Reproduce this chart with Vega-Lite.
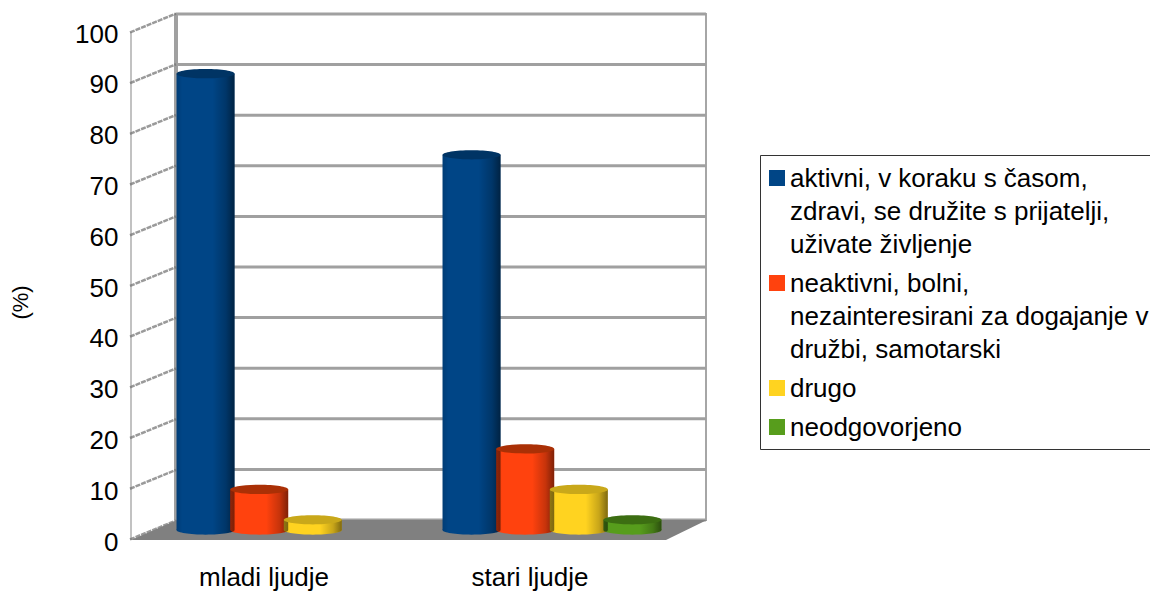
{
  "$schema": "https://vega.github.io/schema/vega-lite/v6.json",
  "width": 530,
  "height": 506,
  "autosize": {"type": "none"},
  "padding": {"left": 176, "top": 14, "right": 444, "bottom": 71},
  "background": "white",
  "config": {"font": "Liberation Sans", "view": {"stroke": "#a6a6a6", "strokeWidth": 2, "fill": "white"}},
  "datasets": {
    "answers": [
      {"group": "mladi ljudje", "series": "aktivni, v koraku s časom,\nzdravi, se družite s prijatelji,\nuživate življenje", "percent": 90},
      {"group": "mladi ljudje", "series": "neaktivni, bolni,\nnezainteresirani za dogajanje v\ndružbi, samotarski", "percent": 8},
      {"group": "mladi ljudje", "series": "drugo", "percent": 2},
      {"group": "stari ljudje", "series": "aktivni, v koraku s časom,\nzdravi, se družite s prijatelji,\nuživate življenje", "percent": 74},
      {"group": "stari ljudje", "series": "neaktivni, bolni,\nnezainteresirani za dogajanje v\ndružbi, samotarski", "percent": 16},
      {"group": "stari ljudje", "series": "drugo", "percent": 8},
      {"group": "stari ljudje", "series": "neodgovorjeno", "percent": 2}
    ],
    "ticks": [
      {"tick": 0}, {"tick": 10}, {"tick": 20}, {"tick": 30}, {"tick": 40}, {"tick": 50},
      {"tick": 60}, {"tick": 70}, {"tick": 80}, {"tick": 90}, {"tick": 100}
    ]
  },
  "data": {"name": "answers"},
  "resolve": {"scale": {"x": "independent", "y": "independent", "fill": "independent", "color": "independent", "xOffset": "independent"}},
  "layer": [
    {
      "description": "Horizontal grid on the back wall",
      "data": {"name": "ticks"},
      "mark": {"type": "rule", "stroke": "#a0a0a0", "strokeWidth": 3},
      "encoding": {
        "y": {"field": "tick", "type": "quantitative", "axis": null, "scale": {"domain": [0, 100]}}
      }
    },
    {
      "description": "Inner corner of the walls",
      "data": {"values": [{"edge": 0}]},
      "mark": {"type": "rule", "stroke": "#a0a0a0", "strokeWidth": 4},
      "encoding": {
        "x": {"field": "edge", "type": "quantitative", "axis": null, "scale": {"domain": [0, 1]}}
      }
    },
    {
      "description": "Front edge of the side wall; carries the value axis and the category labels",
      "data": {"values": [{"group": "mladi ljudje", "tick": 50}]},
      "mark": {"type": "point", "shape": "M 0 -1 L 0 1", "size": 258064, "filled": false, "stroke": "#8c8c8c", "strokeWidth": 1.5},
      "encoding": {
        "x": {
          "field": "group", "type": "nominal", "bandPosition": 0, "title": null,
          "scale": {"type": "band", "domain": ["mladi ljudje", "stari ljudje"], "range": [-45, 487], "paddingInner": 0, "paddingOuter": 0},
          "axis": {"orient": "bottom", "domain": false, "ticks": false, "labelAngle": 0, "labelPadding": 57, "labelFontSize": 26, "labelColor": "#000000", "labelFont": "Liberation Sans", "labelBaseline": "middle"}
        },
        "y": {
          "field": "tick", "type": "quantitative", "title": "(%)",
          "scale": {"domain": [0, 100], "range": [526, 18]},
          "axis": {"orient": "left", "offset": 46, "values": [0, 10, 20, 30, 40, 50, 60, 70, 80, 90, 100], "domain": false, "ticks": false, "grid": false, "labelPadding": 12, "labelOffset": 2, "labelFontSize": 26, "labelColor": "#000000", "titleFontSize": 22, "titleFontWeight": "normal", "titleColor": "#000000", "titlePadding": 42, "titleY": 288}
        }
      }
    },
    {
      "description": "Grid continued across the side wall",
      "data": {"name": "ticks"},
      "mark": {"type": "point", "shape": "M -1 0.41 L 1 -0.41", "size": 2116, "filled": false, "stroke": "#707070", "strokeWidth": 2.5, "strokeDash": [5, 1]},
      "encoding": {
        "x": {"datum": "mladi ljudje", "type": "nominal", "bandPosition": 0, "axis": null,
          "scale": {"type": "band", "domain": ["mladi ljudje", "stari ljudje"], "range": [-23, 509], "paddingInner": 0, "paddingOuter": 0}},
        "y": {"field": "tick", "type": "quantitative", "axis": null, "scale": {"domain": [0, 100], "range": [516, 9]}}
      }
    },
    {
      "description": "Floor of the chart box",
      "data": {"values": [{"tick": 0}]},
      "mark": {"type": "point", "shape": "M -1 0.0347 L 0.8576 0.0347 L 1 -0.0347 L -0.84 -0.0347 Z", "size": 331776, "filled": true, "fill": "#808080", "opacity": 1},
      "encoding": {
        "x": {"datum": "mladi ljudje", "type": "nominal", "bandPosition": 1, "axis": null,
          "scale": {"type": "band", "domain": ["mladi ljudje", "stari ljudje"], "range": [-23, 509], "paddingInner": 0, "paddingOuter": 0}},
        "y": {"field": "tick", "type": "quantitative", "axis": null, "scale": {"domain": [0, 100], "range": [516, 9]}}
      }
    },
    {
      "description": "Rounded foot of each cylinder",
      "mark": {"type": "point", "shape": "M -1 0 A 1 0.16 0 1 0 1 0 A 1 0.16 0 1 0 -1 0 Z", "size": 3364, "filled": true, "opacity": 1},
      "encoding": {
        "x": {"field": "group", "type": "nominal", "axis": null,
          "scale": {"type": "band", "domain": ["mladi ljudje", "stari ljudje"], "range": [-23, 509], "paddingInner": 0, "paddingOuter": 0}},
        "xOffset": {"field": "series", "type": "nominal", "sort": null,
          "scale": {"type": "band", "paddingInner": 0, "paddingOuter": 0.48, "domain": ["aktivni, v koraku s časom,\nzdravi, se družite s prijatelji,\nuživate življenje", "neaktivni, bolni,\nnezainteresirani za dogajanje v\ndružbi, samotarski", "drugo", "neodgovorjeno"]}},
        "y": {"datum": 0, "type": "quantitative", "axis": null, "scale": {"domain": [0, 100], "range": [516, 9]}},
        "fill": {"field": "series", "type": "nominal", "legend": null,
          "scale": {
            "domain": ["aktivni, v koraku s časom,\nzdravi, se družite s prijatelji,\nuživate življenje", "neaktivni, bolni,\nnezainteresirani za dogajanje v\ndružbi, samotarski", "drugo", "neodgovorjeno"],
            "range": ["#004586", "#ff420e", "#ffd320", "#579d1c"]
          }}
      }
    },
    {
      "description": "Shading of the cylinder feet",
      "mark": {"type": "point", "shape": "M -1 0 A 1 0.16 0 1 0 1 0 A 1 0.16 0 1 0 -1 0 Z", "size": 3364, "filled": true, "opacity": 1, "fill": {
        "gradient": "linear", "x1": 0, "x2": 1, "y1": 0, "y2": 0,
        "stops": [
          {"offset": 0, "color": "rgba(0,0,0,0.12)"},
          {"offset": 0.1, "color": "rgba(0,0,0,0)"},
          {"offset": 0.62, "color": "rgba(0,0,0,0)"},
          {"offset": 0.85, "color": "rgba(0,0,0,0.22)"},
          {"offset": 1, "color": "rgba(0,0,0,0.5)"}
        ]
      }},
      "encoding": {
        "x": {"field": "group", "type": "nominal", "axis": null,
          "scale": {"type": "band", "domain": ["mladi ljudje", "stari ljudje"], "range": [-23, 509], "paddingInner": 0, "paddingOuter": 0}},
        "xOffset": {"field": "series", "type": "nominal", "sort": null,
          "scale": {"type": "band", "paddingInner": 0, "paddingOuter": 0.48, "domain": ["aktivni, v koraku s časom,\nzdravi, se družite s prijatelji,\nuživate življenje", "neaktivni, bolni,\nnezainteresirani za dogajanje v\ndružbi, samotarski", "drugo", "neodgovorjeno"]}},
        "y": {"datum": 0, "type": "quantitative", "axis": null, "scale": {"domain": [0, 100], "range": [516, 9]}}
      }
    },
    {
      "description": "Cylinder bodies; the flat series colours feed the legend",
      "mark": {"type": "bar", "width": 58},
      "encoding": {
        "x": {"field": "group", "type": "nominal", "axis": null,
          "scale": {"type": "band", "domain": ["mladi ljudje", "stari ljudje"], "range": [-23, 509], "paddingInner": 0, "paddingOuter": 0}},
        "xOffset": {"field": "series", "type": "nominal", "sort": null,
          "scale": {"type": "band", "paddingInner": 0, "paddingOuter": 0.48, "domain": ["aktivni, v koraku s časom,\nzdravi, se družite s prijatelji,\nuživate življenje", "neaktivni, bolni,\nnezainteresirani za dogajanje v\ndružbi, samotarski", "drugo", "neodgovorjeno"]}},
        "y": {"field": "percent", "type": "quantitative", "axis": null, "scale": {"domain": [0, 100], "range": [516, 9]}},
        "color": {"field": "series", "type": "nominal",
          "scale": {
            "domain": ["aktivni, v koraku s časom,\nzdravi, se družite s prijatelji,\nuživate življenje", "neaktivni, bolni,\nnezainteresirani za dogajanje v\ndružbi, samotarski", "drugo", "neodgovorjeno"],
            "range": ["#004586", "#ff420e", "#ffd320", "#579d1c"]
          },
          "legend": {
            "orient": "none", "legendX": 584, "legendY": 141, "title": null,
            "symbolType": "square", "symbolSize": 256, "symbolStrokeWidth": 0, "symbolOpacity": 1, "symbolOffset": -4,
            "labelFontSize": 26, "labelColor": "#000000", "labelLimit": 500, "labelOffset": 0,
            "labelExpr": "split(datum.label,'\\n')",
            "rowPadding": 10, "padding": 8,
            "strokeColor": "#333333", "fillColor": "white",
            "values": ["aktivni, v koraku s časom,\nzdravi, se družite s prijatelji,\nuživate življenje", "neaktivni, bolni,\nnezainteresirani za dogajanje v\ndružbi, samotarski", "drugo", "neodgovorjeno"],
            "encode": {
              "labels": {"update": {"lineHeight": {"value": 33}, "dy": {"value": 3}}},
              "symbols": {"update": {"y": {"value": 15}}}
            }
          }}
      }
    },
    {
      "description": "Shading that rounds the cylinder bodies",
      "mark": {"type": "bar", "width": 58, "fill": {
        "gradient": "linear", "x1": 0, "x2": 1, "y1": 0, "y2": 0,
        "stops": [
          {"offset": 0, "color": "rgba(0,0,0,0.12)"},
          {"offset": 0.1, "color": "rgba(0,0,0,0)"},
          {"offset": 0.62, "color": "rgba(0,0,0,0)"},
          {"offset": 0.85, "color": "rgba(0,0,0,0.22)"},
          {"offset": 1, "color": "rgba(0,0,0,0.5)"}
        ]
      }},
      "encoding": {
        "x": {"field": "group", "type": "nominal", "axis": null,
          "scale": {"type": "band", "domain": ["mladi ljudje", "stari ljudje"], "range": [-23, 509], "paddingInner": 0, "paddingOuter": 0}},
        "xOffset": {"field": "series", "type": "nominal", "sort": null,
          "scale": {"type": "band", "paddingInner": 0, "paddingOuter": 0.48, "domain": ["aktivni, v koraku s časom,\nzdravi, se družite s prijatelji,\nuživate življenje", "neaktivni, bolni,\nnezainteresirani za dogajanje v\ndružbi, samotarski", "drugo", "neodgovorjeno"]}},
        "y": {"field": "percent", "type": "quantitative", "axis": null, "scale": {"domain": [0, 100], "range": [516, 9]}}
      }
    },
    {
      "description": "Darker elliptical cap of each cylinder",
      "mark": {"type": "point", "shape": "M -1 0 A 1 0.16 0 1 1 1 0 A 1 0.16 0 1 1 -1 0 Z", "size": 3364, "filled": true, "opacity": 1},
      "encoding": {
        "x": {"field": "group", "type": "nominal", "axis": null,
          "scale": {"type": "band", "domain": ["mladi ljudje", "stari ljudje"], "range": [-23, 509], "paddingInner": 0, "paddingOuter": 0}},
        "xOffset": {"field": "series", "type": "nominal", "sort": null,
          "scale": {"type": "band", "paddingInner": 0, "paddingOuter": 0.48, "domain": ["aktivni, v koraku s časom,\nzdravi, se družite s prijatelji,\nuživate življenje", "neaktivni, bolni,\nnezainteresirani za dogajanje v\ndružbi, samotarski", "drugo", "neodgovorjeno"]}},
        "y": {"field": "percent", "type": "quantitative", "axis": null, "scale": {"domain": [0, 100], "range": [516, 9]}},
        "fill": {"field": "series", "type": "nominal", "legend": null,
          "scale": {
            "domain": ["aktivni, v koraku s časom,\nzdravi, se družite s prijatelji,\nuživate življenje", "neaktivni, bolni,\nnezainteresirani za dogajanje v\ndružbi, samotarski", "drugo", "neodgovorjeno"],
            "range": ["#003464", "#aa3006", "#c9a81a", "#3c6e12"]
          }}
      }
    }
  ]
}
